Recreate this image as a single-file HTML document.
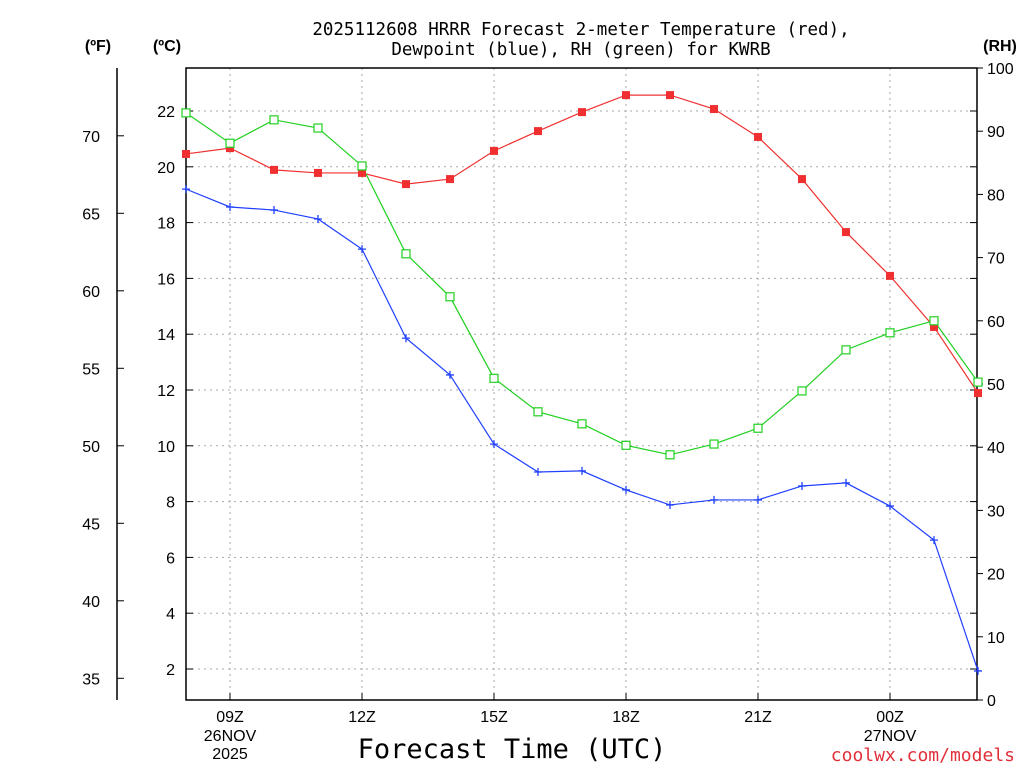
<!DOCTYPE html>
<html><head><meta charset="utf-8">
<style>
html,body{margin:0;padding:0;background:#fff;}
svg{display:block;font-family:"Liberation Sans","DejaVu Sans",sans-serif;}
.mono{font-family:"DejaVu Sans Mono","Liberation Mono",monospace;}
</style></head>
<body>
<svg id="chart" width="1024" height="768" viewBox="0 0 1024 768"></svg>
<script>
const hours=[8,9,10,11,12,13,14,15,16,17,18,19,20,21,22,23,24,25,26];
const tempC=[20.46,20.67,19.89,19.78,19.78,19.38,19.56,20.57,21.28,21.96,22.57,22.57,22.07,21.07,19.56,17.66,16.09,14.26,11.89];
const dewC=[19.20,18.56,18.45,18.13,17.05,13.86,12.54,10.06,9.06,9.10,8.42,7.88,8.06,8.06,8.56,8.67,7.84,6.62,1.93];
const rh=[92.9,88.1,91.8,90.5,84.5,70.6,63.8,50.9,45.6,43.7,40.3,38.8,40.5,43.0,48.9,55.4,58.1,60.0,50.3];
const cTicks=[2,4,6,8,10,12,14,16,18,20,22];
const fTicks=[35,40,45,50,55,60,65,70];
const rhTicks=[0,10,20,30,40,50,60,70,80,90,100];
const xTickHours=[9,12,15,18,21,24];
const xTickLabels=["09Z","12Z","15Z","18Z","21Z","00Z"];

const L=186,R=977,T=68,B=700;
const xS=h=>L+(h-8)*44;
const yC=c=>111+(22-c)*27.9;
const yF=f=>yC((f-32)*5/9);
const yR=r=>B-r*6.32;
const svg=document.getElementById('chart');
const NS='http://www.w3.org/2000/svg';
function mk(tag,attrs,parent){const e=document.createElementNS(NS,tag);for(const k in attrs)e.setAttribute(k,attrs[k]);(parent||svg).appendChild(e);return e;}
function txt(x,y,s,attrs){const e=mk('text',Object.assign({x:x,y:y},attrs||{}));e.textContent=s;return e;}

const grid=mk('g',{});


for(let h=9;h<=24;h+=3){mk('line',{x1:xS(h),x2:xS(h),y1:T,y2:B,stroke:'#aaa','stroke-dasharray':'2,4'},grid);}
cTicks.forEach(c=>mk('line',{x1:L,x2:R,y1:yC(c),y2:yC(c),stroke:'#aaa','stroke-dasharray':'2,4'},grid));
const frame=mk('rect',{x:L,y:T,width:R-L,height:B-T,fill:'none',stroke:'#000','stroke-width':1.5});



cTicks.forEach(c=>{mk('line',{x1:L,x2:L+7,y1:yC(c),y2:yC(c),stroke:'#000'});mk('line',{x1:R,x2:R-7,y1:yC(c),y2:yC(c),stroke:'#000'});
 const t=txt(175,yC(c)+6,String(c),{'text-anchor':'end','font-size':16});
 
 });
mk('line',{x1:117,x2:117,y1:68,y2:700,stroke:'#000','stroke-width':1.5});
fTicks.forEach(f=>{mk('line',{x1:117,x2:124,y1:yF(f),y2:yF(f),stroke:'#000'});
 const t=txt(100,yF(f)+6,String(f),{'text-anchor':'end','font-size':16});
 
 });
rhTicks.forEach(r=>{mk('line',{x1:R,x2:R+6,y1:yR(r),y2:yR(r),stroke:'#000'});
 const t=txt(987,yR(r)+6,String(r),{'font-size':16});
 
 });
xTickHours.forEach((h,i)=>{mk('line',{x1:xS(h),x2:xS(h),y1:B,y2:B-7,stroke:'#000'});
 const t=txt(xS(h),722,xTickLabels[i],{'text-anchor':'middle','font-size':16});
 
 });
txt(230,741,'26NOV',{'text-anchor':'middle','font-size':16});
txt(230,759,'2025',{'text-anchor':'middle','font-size':16});
txt(890,741,'27NOV',{'text-anchor':'middle','font-size':16});
const xt=txt(512,758,'Forecast Time (UTC)',{'text-anchor':'middle','font-size':27,'class':'mono'});


const cr=txt(1015,761,'coolwx.com/models',{'text-anchor':'end','font-size':18,fill:'#e0303a','class':'mono'});


[['(ºF)',98],['(ºC)',167],['(RH)',1000]].forEach(u=>{const t=txt(u[1],51,u[0],{'text-anchor':'middle','font-size':16,'font-weight':'bold'});
 
 });
const t1=txt(581,35,'2025112608 HRRR Forecast 2-meter Temperature (red),',{'text-anchor':'middle','font-size':17.5,'class':'mono'});


txt(581,55,'Dewpoint (blue), RH (green) for KWRB',{'text-anchor':'middle','font-size':17.5,'class':'mono'});

function line(vals,yf,color,name){const pts=hours.map((h,i)=>xS(h)+','+yf(vals[i])).join(' ');
 const p=mk('polyline',{points:pts,fill:'none',stroke:color,'stroke-width':1.2});
 
 }
line(tempC,yC,'#f03030','temperature-line');
line(dewC,yC,'#2040ff','dewpoint-line');
line(rh,yR,'#20d020','rh-line');
hours.forEach((h,i)=>{
 const a=mk('rect',{x:xS(h)-4,y:yC(tempC[i])-4,width:8,height:8,fill:'#f03030'});
 
 
 const b=mk('rect',{x:xS(h)-4,y:yR(rh[i])-4,width:8,height:8,fill:'#fff',stroke:'#20d020','stroke-width':1.2});
 
 
 const x=xS(h),y=yC(dewC[i]);
 const c=mk('path',{d:`M${x-4},${y}H${x+4}M${x},${y-4}V${y+4}`,stroke:'#2040ff','stroke-width':1.3});
 
 
});
</script>
</body></html>
